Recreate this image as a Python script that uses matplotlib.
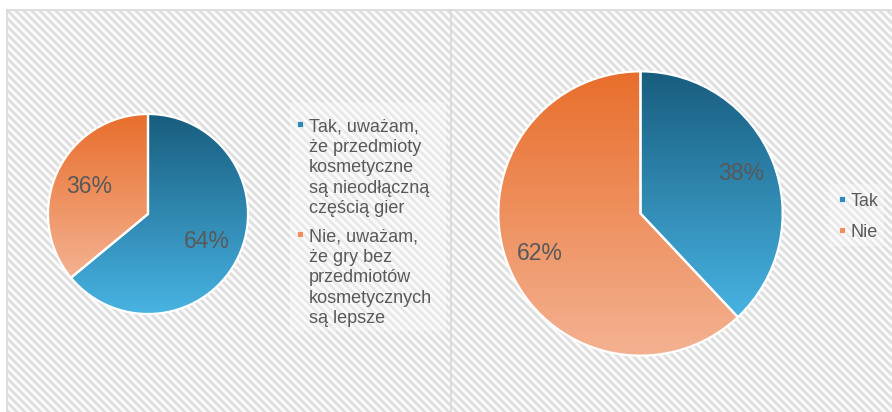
import matplotlib.pyplot as plt
import numpy as np
from matplotlib.colors import LinearSegmentedColormap
from matplotlib.patches import Rectangle

plt.rcParams['font.family'] = ['Liberation Sans', 'DejaVu Sans']

# data
left_labels = ['Tak, uważam,\nże przedmioty\nkosmetyczne\nsą nieodłączną\nczęścią gier',
               'Nie, uważam,\nże gry bez\nprzedmiotów\nkosmetycznych\nsą lepsze']
left_values = [64, 36]
right_labels = ['Tak', 'Nie']
right_values = [38, 62]

# gradient colours (top, bottom) per series, plus legend marker colour
grads = [('#185d7e', '#48b3e3'), ('#e86e2b', '#f4b292')]
marker_cols = ['#2f88b5', '#ef8f60']
text_col = '#595959'

W, H = 892, 412
fig = plt.figure(figsize=(W / 100, H / 100), dpi=100)


def fx(px):
    return px / W


def fy(py):
    return 1 - py / H


# striped background
bg = fig.add_axes([fx(7), 0, 1 - fx(7), fy(10)])
xx, yy = np.meshgrid(np.arange(W - 7), np.arange(H - 10))
period = 8.0
stripe = 0.5 + 0.5 * np.cos(2 * np.pi * (xx - yy) / period)
bg_cmap = LinearSegmentedColormap.from_list('bg', ['#ffffff', '#dcdcdc'])
bg.imshow(stripe, cmap=bg_cmap, aspect='auto', interpolation='bilinear')
bg.axis('off')

# borders
for x in (7, 451):
    fig.add_artist(plt.Line2D([fx(x), fx(x)], [0, fy(10)], color='#d9d9d9', lw=1.2))
fig.add_artist(plt.Line2D([fx(7), 1], [fy(10), fy(10)], color='#d9d9d9', lw=1.2))


def gradient_pie(rect, values, pctdist):
    ax = fig.add_axes(rect)
    wedges, _, autotexts = ax.pie(values, startangle=90, counterclock=False,
                                  autopct='%1.0f%%', pctdistance=pctdist,
                                  wedgeprops=dict(edgecolor='white', linewidth=1.6),
                                  textprops=dict(color=text_col, fontsize=16.5))
    for w, (c0, c1) in zip(wedges, grads):
        ext = w.get_path().get_extents()
        cmap = LinearSegmentedColormap.from_list('g', [c0, c1])
        grad = np.linspace(0, 1, 256).reshape(-1, 1)
        im = ax.imshow(grad, cmap=cmap, aspect='auto', origin='upper',
                       extent=(ext.x0, ext.x1, ext.y0, ext.y1), zorder=0.5)
        im.set_clip_path(w)
        w.set_facecolor('none')
        w.set_zorder(1)
    for t in autotexts:
        t.set_zorder(3)
    ax.set_xlim(-1.02, 1.02)
    ax.set_ylim(-1.02, 1.02)
    ax.set_aspect('equal')
    ax.axis('off')
    return ax


# left pie: centre (148,214) r 100
r = 102
gradient_pie([fx(148 - r), fy(214 + r), 2 * r / W, 2 * r / H], left_values, 0.65)
# right pie: centre (640.5,213.5) r 142.5
r = 145
gradient_pie([fx(640.5 - r), fy(213.5 + r), 2 * r / W, 2 * r / H], right_values, 0.76)


def legend(x_mark, x_text, y_tops, labels, box):
    bx0, by0, bx1, by1 = box
    fig.patches.append(Rectangle((fx(bx0), fy(by1)), fx(bx1 - bx0), (by1 - by0) / H,
                                 transform=fig.transFigure, facecolor='white',
                                 alpha=0.3, edgecolor='none', zorder=1))
    for lab, yt, mc in zip(labels, y_tops, marker_cols):
        fig.patches.append(Rectangle((fx(x_mark), fy(yt + 10)), 6 / W, 6 / H,
                                     transform=fig.transFigure, facecolor=mc,
                                     edgecolor='white', lw=0.5, zorder=2))
        fig.text(fx(x_text), fy(yt + 1), lab, ha='left', va='top', fontsize=13,
                 color=text_col, linespacing=1.27, zorder=3)


legend(297, 309, [117, 227], left_labels, (290, 103, 446, 331))
legend(839, 851, [192, 223], right_labels, (829, 184, 884, 246))

fig.savefig('out.png', dpi=100)
